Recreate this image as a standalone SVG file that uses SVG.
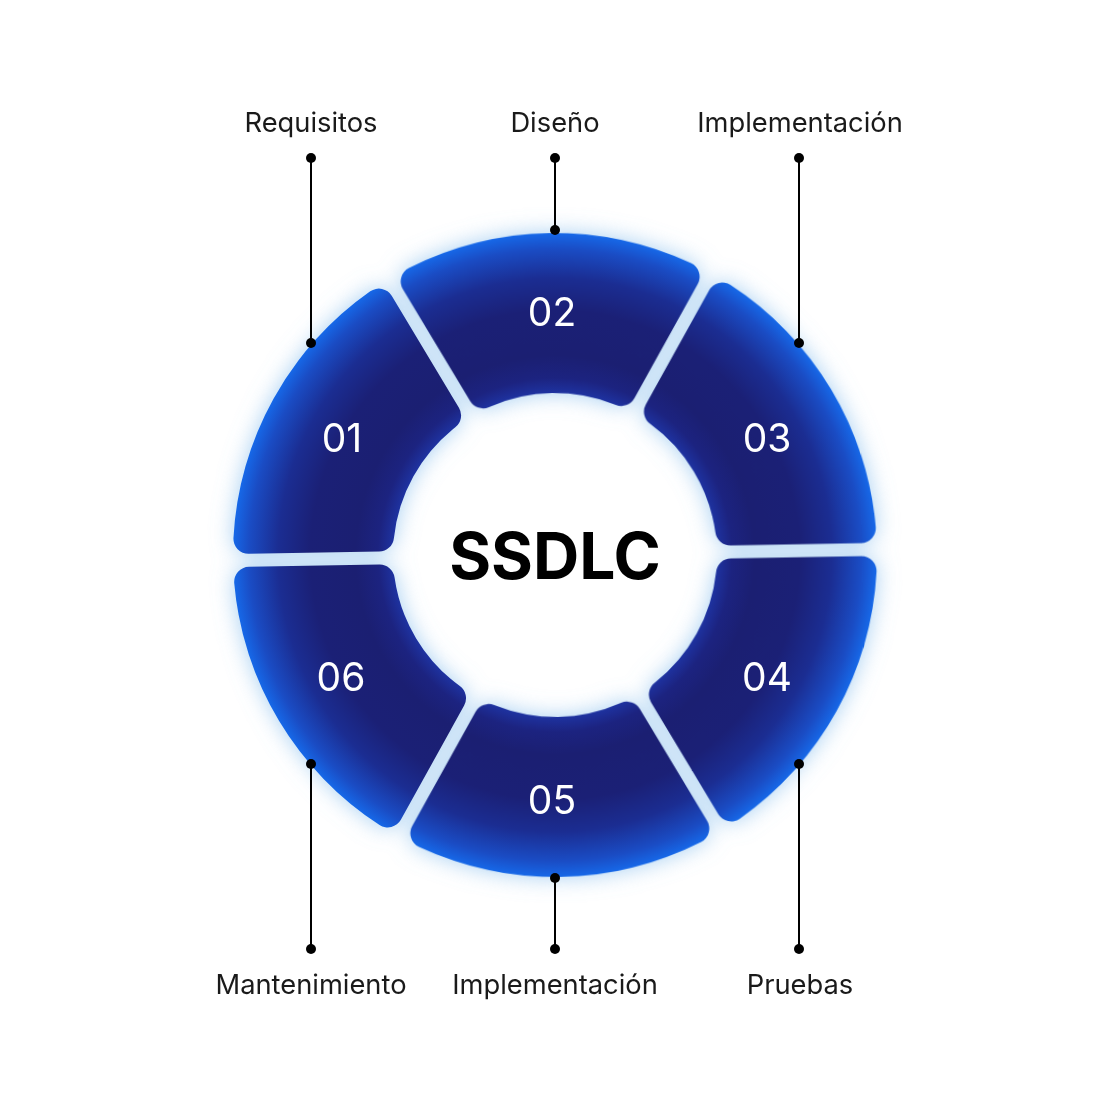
<svg xmlns="http://www.w3.org/2000/svg" width="1110" height="1110" viewBox="0 0 1110 1110">
<style>
.lbl{font-family:Inter,"Noto Sans","Liberation Sans",sans-serif;font-size:27.3px;fill:#1a1a1a;text-anchor:middle}
.num{font-family:Inter,"Noto Sans","Liberation Sans",sans-serif;font-size:39px;fill:#ffffff;text-anchor:middle}
.ttl{font-family:Inter,"Liberation Sans",sans-serif;font-size:64px;font-weight:700;fill:#000;text-anchor:middle}
.seg{fill:url(#rg)}
.glowseg{fill:#6aaee8}
.wire{stroke:#000;stroke-width:2;fill:none}
.dot{fill:#000}
</style>
<defs>
<radialGradient id="rg" gradientUnits="userSpaceOnUse" cx="555" cy="555" r="322">
<stop offset="0.5" stop-color="#1e33a2"/>
<stop offset="0.55" stop-color="#1c2380"/>
<stop offset="0.62" stop-color="#1b1f72"/>
<stop offset="0.76" stop-color="#1b2076"/>
<stop offset="0.86" stop-color="#1b2d92"/>
<stop offset="0.95" stop-color="#1a4cc4"/>
<stop offset="1" stop-color="#1668e8"/>
</radialGradient>
<filter id="outer" x="-20%" y="-20%" width="140%" height="140%">
<feGaussianBlur stdDeviation="11"/>
</filter>
<path id="segshape" d="M407.51 286.53 A15 15 0 0 1 413.93 265.55 A322 322 0 0 1 696.07 265.55 A15 15 0 0 1 702.49 286.53 L637.21 399.60 A15 15 0 0 1 618.35 405.91 A162 162 0 0 0 491.65 405.91 A15 15 0 0 1 472.79 399.60 Z"/>
</defs>
<rect width="1110" height="1110" fill="#ffffff"/>
<g id="ring-glow" filter="url(#outer)" opacity="0.6" transform="rotate(-1 555 555)">
<use href="#segshape" class="glowseg"/>
<use href="#segshape" class="glowseg" transform="rotate(60 555 555)"/>
<use href="#segshape" class="glowseg" transform="rotate(120 555 555)"/>
<use href="#segshape" class="glowseg" transform="rotate(180 555 555)"/>
<use href="#segshape" class="glowseg" transform="rotate(240 555 555)"/>
<use href="#segshape" class="glowseg" transform="rotate(300 555 555)"/>
</g>
<g transform="rotate(-1 555 555)">
<g id="seg02"><use href="#segshape" class="seg"/></g>
<g id="seg03"><use href="#segshape" class="seg" transform="rotate(60 555 555)"/></g>
<g id="seg04"><use href="#segshape" class="seg" transform="rotate(120 555 555)"/></g>
<g id="seg05"><use href="#segshape" class="seg" transform="rotate(180 555 555)"/></g>
<g id="seg06"><use href="#segshape" class="seg" transform="rotate(240 555 555)"/></g>
<g id="seg01"><use href="#segshape" class="seg" transform="rotate(300 555 555)"/></g>
</g>
<g id="numbers">
<text class="num" x="342" y="452">01</text>
<text class="num" x="552" y="326">02</text>
<text class="num" x="767" y="452">03</text>
<text class="num" x="767" y="691">04</text>
<text class="num" x="552" y="814">05</text>
<text class="num" x="341" y="691">06</text>
</g>
<g id="center"><text class="ttl" x="555" y="579">SSDLC</text></g>
<g id="connectors">
<line class="wire" x1="311" y1="158" x2="311" y2="343"/>
<circle class="dot" cx="311" cy="158" r="5"/><circle class="dot" cx="311" cy="343" r="5"/>
<line class="wire" x1="555" y1="158" x2="555" y2="230"/>
<circle class="dot" cx="555" cy="158" r="5"/><circle class="dot" cx="555" cy="230" r="5"/>
<line class="wire" x1="799" y1="158" x2="799" y2="343"/>
<circle class="dot" cx="799" cy="158" r="5"/><circle class="dot" cx="799" cy="343" r="5"/>
<line class="wire" x1="311" y1="764" x2="311" y2="949"/>
<circle class="dot" cx="311" cy="764" r="5"/><circle class="dot" cx="311" cy="949" r="5"/>
<line class="wire" x1="555" y1="878" x2="555" y2="949"/>
<circle class="dot" cx="555" cy="878" r="5"/><circle class="dot" cx="555" cy="949" r="5"/>
<line class="wire" x1="799" y1="764" x2="799" y2="949"/>
<circle class="dot" cx="799" cy="764" r="5"/><circle class="dot" cx="799" cy="949" r="5"/>
</g>
<g id="labels">
<text class="lbl" x="311" y="132">Requisitos</text>
<text class="lbl" x="555" y="132">Diseño</text>
<text class="lbl" x="800" y="132">Implementación</text>
<text class="lbl" x="311" y="994">Mantenimiento</text>
<text class="lbl" x="555" y="994">Implementación</text>
<text class="lbl" x="800" y="994">Pruebas</text>
</g>
</svg>
